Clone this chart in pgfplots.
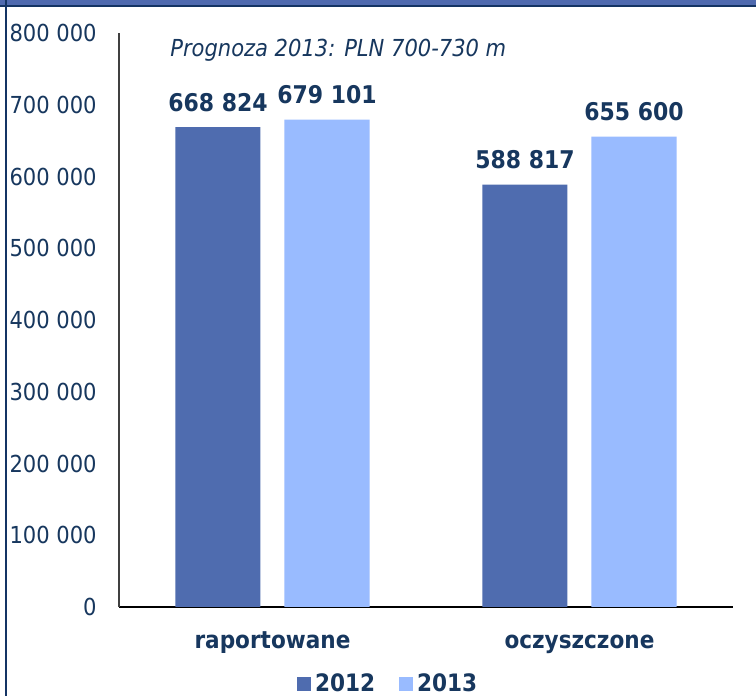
\documentclass[border=0pt]{standalone}
\usepackage{pgfplots}
\pgfplotsset{compat=1.18}
\usepackage{fontspec}
\setmainfont{DejaVu Sans Condensed}[BoldFont={DejaVu Sans Condensed Bold},ItalicFont={DejaVu Sans Condensed Oblique}]
\definecolor{cA}{RGB}{79,108,175}
\definecolor{cB}{RGB}{153,187,255}
\definecolor{navy}{RGB}{23,55,94}
\definecolor{band}{RGB}{79,106,175}
\definecolor{bandline}{RGB}{20,52,100}
\begin{document}
\begin{tikzpicture}
\path[use as bounding box, fill=white] (0pt,0pt) rectangle (378pt,348pt);
\fill[band] (0pt,345.5pt) rectangle (378pt,348pt);
\fill[bandline] (0pt,344.5pt) rectangle (378pt,345.6pt);
\fill[bandline] (2.5pt,0pt) rectangle (3.6pt,348pt);
\begin{axis}[
  at={(59.5pt,44.5pt)}, anchor=south west,
  width=307pt, height=287pt, scale only axis,
  ybar=12pt, bar width=42.5pt,
  xmin=-0.5, xmax=1.5, ymin=0, ymax=800000,
  enlargelimits=false, clip=false,
  scaled y ticks=false,
  axis x line=bottom, axis y line=left,
  axis line style={-},
  x axis line style={black, line width=0.8pt},
  y axis line style={black!75, line width=0.8pt},
  major tick length=0pt,
  xtick={0,1}, xticklabels={raportowane,oczyszczone},
  ytick={0,100000,200000,300000,400000,500000,600000,700000,800000},
  yticklabels={0,100 000,200 000,300 000,400 000,500 000,600 000,700 000,800 000},
  /pgf/number format/assume math mode=true,
  yticklabel style={anchor=east, inner sep=0pt, xshift=-11pt, text=navy, font=\fontsize{11.7}{14}\selectfont},
  xticklabel style={anchor=base, inner sep=0pt, yshift=-21pt, text=navy, font=\bfseries\fontsize{12}{14}\selectfont},
  nodes near coords, point meta=explicit symbolic,
  nodes near coords style={font=\bfseries\fontsize{12.2}{14}\selectfont, text=navy, anchor=south, inner sep=0pt, yshift=7.5pt},
  legend style={at={(rel axis cs:0.44,-0.1350)}, anchor=center, draw=none, fill=none,
    legend columns=2, font=\bfseries\fontsize{12}{14}\selectfont, text=navy,
    /tikz/every even column/.append style={column sep=10pt}},
  legend image code/.code={\fill[#1] (0pt,-3.5pt) rectangle (7pt,3.5pt);},
]
\addplot[fill=cA, draw=none] coordinates {(0,668824)[668 824] (1,588817)[588 817]};
\addplot[fill=cB, draw=none] coordinates {(0,679101)[679 101] (1,655600)[655 600]};
\legend{2012,2013}
\node[anchor=west, inner sep=0pt, text=navy, font=\itshape\fontsize{11.7}{13}\selectfont] at (axis cs:-0.334,776000) {Prognoza 2013: PLN 700-730 m};
\end{axis}
\end{tikzpicture}
\end{document}
